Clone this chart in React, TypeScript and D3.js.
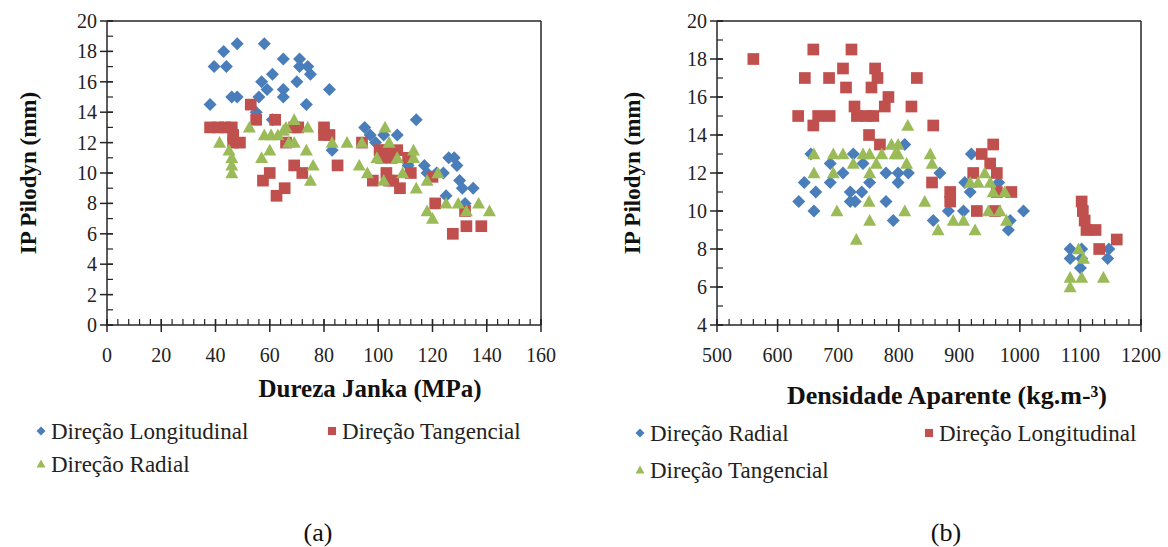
import React from 'react';
import { scaleLinear, range } from 'd3';

// (a) IP Pilodyn vs Dureza Janka
const jankaLongitudinal: [number, number][] = [
  [38, 14.5], [39.5, 17], [43, 18], [44, 17], [46, 15], [48, 15], [48, 18.5], [55, 14],
  [56, 15], [57, 16], [58, 18.5], [59, 15.5], [61, 16.5], [61, 13.5], [65, 17.5], [65, 15.5],
  [65, 15], [70, 16], [71, 17.5], [71, 17], [74, 17], [75, 16.5], [73.5, 14.5], [82, 15.5],
  [83, 11.5], [95, 13], [97, 12.5], [99, 12], [102, 12.5], [107, 12.5], [111, 10.5], [114, 13.5],
  [117, 10.5], [118, 10], [121.5, 10], [124, 10], [126, 11], [128, 11], [129, 10.5], [130, 9.5],
  [131, 9], [135, 9], [125, 8.5], [132, 8],
];
const jankaTangencial: [number, number][] = [
  [38, 13], [41, 13], [43.5, 13], [46, 13], [46.5, 12.5], [46.5, 12], [49, 12], [53, 14.5],
  [55, 13.5], [57.5, 9.5], [60, 10], [62, 13.5], [62.5, 8.5], [65.5, 9], [66, 12], [69, 13],
  [69, 10.5], [70.5, 13], [72, 10], [80, 13], [80, 12.5], [82, 12.5], [85, 10.5], [94, 12],
  [98, 9.5], [100.5, 11.5], [101, 11], [103, 11.5], [103, 10], [104, 9.5], [105, 11], [105.5, 9.5],
  [107, 11.5], [108, 9], [111, 11], [112, 10], [120, 9.75], [121, 8], [127.5, 6], [132.5, 6.5],
  [132, 7.5], [138, 6.5],
];
const jankaRadial: [number, number][] = [
  [41.5, 12], [45, 11.5], [46, 11], [46, 10.5], [46, 10], [52.5, 13], [57, 11], [58, 12.5],
  [60, 11.5], [60.5, 12.5], [63, 12.5], [65, 12.8], [66, 13], [67, 12], [69, 13.5], [69, 12],
  [73.5, 11.5], [74, 13], [76, 10.5], [75, 9.5], [83, 12], [88.5, 12], [93, 10.5], [94, 12],
  [96, 10], [99.5, 11], [102, 9.5], [102.5, 13], [104, 12], [107, 11], [109, 10], [113, 11.5],
  [113, 11], [114, 9], [118, 9.5], [118, 7.5], [120, 7], [122, 10], [125, 8], [129.5, 8],
  [132.5, 7.5], [137, 8], [141, 7.5],
];

// (b) IP Pilodyn vs Densidade Aparente
const densRadial: [number, number][] = [
  [635, 10.5], [644, 11.5], [655, 13], [660, 10], [663, 11], [687, 12.5], [687, 11.5], [708, 12],
  [720, 11], [720, 10.5], [725, 13], [728, 10.5], [739, 11], [741, 12.5], [752, 11.5], [779, 12],
  [779, 10.5], [791, 9.5], [799, 12], [799, 11.5], [810, 13.5], [816, 12], [857, 9.5], [868, 12],
  [882, 10], [907, 10], [909, 11.5], [918, 11], [920, 13], [965, 11.5], [981, 9], [984, 9.5],
  [1006, 10], [1083, 8], [1083, 7.5], [1102, 8], [1102, 7.5], [1100, 7], [1147, 8], [1145, 7.5],
];
const densLongitudinal: [number, number][] = [
  [560, 18], [634, 15], [645, 17], [659, 18.5], [659, 14.5], [667, 15], [685, 17], [686, 15],
  [708, 17.5], [713, 16.5], [722, 18.5], [727, 15.5], [731, 15], [747, 15], [751, 14], [755, 16.5],
  [758, 15], [761, 17.5], [765, 17], [769, 13.5], [777, 15.5], [783, 16], [821, 15.5], [830, 17],
  [855, 11.5], [857, 14.5], [885, 11], [885, 10.5], [923, 12], [929, 10], [937, 13], [951, 12.5],
  [956, 13.5], [959, 10], [962, 12], [962, 11], [986, 11], [1102, 10.5], [1104, 10], [1107, 9.5],
  [1110, 9], [1125, 9], [1131, 8], [1160, 8.5],
];
const densTangencial: [number, number][] = [
  [660, 13], [660, 12], [692, 13], [692, 12], [698, 10], [708, 13], [725, 12.5], [730, 8.5],
  [741, 13], [751, 10.5], [752, 13], [752, 12], [752, 9.5], [763, 12.5], [772, 13], [788, 13.5],
  [794, 13], [799, 13.5], [799, 13], [810, 10], [813, 12.5], [815, 14.5], [843, 10.5], [852, 13],
  [855, 12.5], [865, 9], [890, 9.5], [907, 9.5], [918, 11.5], [926, 9], [931, 11.5], [942, 12],
  [948, 10], [951, 11.5], [956, 11], [967, 10], [975, 11], [978, 9.5], [1083, 6.5], [1083, 6],
  [1097, 8], [1102, 6.5], [1105, 7.5], [1138, 6.5],
];

const jankaTicks = [0, 20, 40, 60, 80, 100, 120, 140, 160];
const densTicks = [500, 600, 700, 800, 900, 1000, 1100, 1200];
const pilodynTicksA = [0, 2, 4, 6, 8, 10, 12, 14, 16, 18, 20];
const pilodynTicksB = [4, 6, 8, 10, 12, 14, 16, 18, 20];

const BLUE = '#4a7ebb';
const RED = '#c0504d';
const GREEN = '#9bbb59';
const FONT = "'Liberation Serif', 'Times New Roman', Tinos, 'DejaVu Serif', 'Noto Serif', serif";

type Shape = 'diamond' | 'square' | 'triangle';

const markerPath = (shape: Shape, s: number) => {
  if (shape === 'diamond') return `M0,${-s}L${s},0L0,${s}L${-s},0Z`;
  if (shape === 'square') return `M${-s * 0.9},${-s * 0.9}h${s * 1.8}v${s * 1.8}h${-s * 1.8}Z`;
  return `M0,${-s}L${s},${s * 0.8}L${-s},${s * 0.8}Z`;
};

type Series = { name: string; data: [number, number][]; color: string; shape: Shape };

type PanelProps = {
  left: number; top: number; right: number; bottom: number;
  xTicks: number[]; xMinor: number; yTicks: number[];
  xTitle: React.ReactNode; xTitleX: number; xTitleY: number; xTitleSize: number;
  yTitleX: number;
  series: Series[];
  legend: { x: number; y: number }[];
  caption: string; captionX: number;
};

const Panel = (p: PanelProps) => {
  const x = scaleLinear()
    .domain([p.xTicks[0], p.xTicks[p.xTicks.length - 1]])
    .range([p.left, p.right]);
  const y = scaleLinear()
    .domain([p.yTicks[0], p.yTicks[p.yTicks.length - 1]])
    .range([p.bottom, p.top]);
  const xMinorTicks = range(x.domain()[0], x.domain()[1] + 0.001, p.xMinor);
  const yMinorTicks = range(y.domain()[0], y.domain()[1] + 0.001, 1);
  const axis = '#262626';

  return (
    <g>
      {/* plot area border */}
      <line x1={p.left} x2={p.right} y1={p.top} y2={p.top} stroke={axis} strokeWidth={1.5} />
      <line x1={p.right} x2={p.right} y1={p.top} y2={p.bottom} stroke={axis} strokeWidth={1.5} />

      {/* axes */}
      <line x1={p.left} x2={p.right} y1={p.bottom} y2={p.bottom} stroke={axis} strokeWidth={1.5} />
      <line x1={p.left} x2={p.left} y1={p.top} y2={p.bottom} stroke={axis} strokeWidth={1.5} />

      {xMinorTicks.map(t => (
        <line key={'xm' + t} x1={x(t)} x2={x(t)} y1={p.bottom} y2={p.bottom - 6} stroke={axis} strokeWidth={1.2} />
      ))}
      {p.xTicks.map(t => (
        <g key={'x' + t}>
          <line x1={x(t)} x2={x(t)} y1={p.bottom - 6} y2={p.bottom + 7} stroke={axis} strokeWidth={1.5} />
          <text x={x(t)} y={p.bottom + 37} textAnchor="middle" fontSize={20} fill="#222">{t}</text>
        </g>
      ))}
      {yMinorTicks.map(t => (
        <line key={'ym' + t} x1={p.left} x2={p.left + 6} y1={y(t)} y2={y(t)} stroke={axis} strokeWidth={1.2} />
      ))}
      {p.yTicks.map(t => (
        <g key={'y' + t}>
          <line x1={p.left - 7} x2={p.left + 6} y1={y(t)} y2={y(t)} stroke={axis} strokeWidth={1.5} />
          <text x={p.left - 10} y={y(t)} dy="0.35em" textAnchor="end" fontSize={20} fill="#222">{t}</text>
        </g>
      ))}

      {/* markers */}
      {p.series.map(s => (
        <g key={s.name} fill={s.color}>
          {s.data.map((d, i) => (
            <path key={i} d={markerPath(s.shape, 6.5)} transform={`translate(${x(d[0])},${y(d[1])})`} />
          ))}
        </g>
      ))}

      {/* titles */}
      <text x={p.xTitleX} y={p.xTitleY} textAnchor="middle" fontSize={p.xTitleSize} fontWeight="bold" fill="#111">{p.xTitle}</text>
      <text transform={`translate(${p.yTitleX},${(p.top + p.bottom) / 2}) rotate(-90)`} textAnchor="middle" dy="0.35em"
        fontSize={23} fontWeight="bold" fill="#111">IP Pilodyn (mm)</text>

      {/* legend */}
      {p.series.map((s, i) => (
        <g key={'lg' + s.name} transform={`translate(${p.legend[i].x},${p.legend[i].y})`}>
          <path d={markerPath(s.shape, 4.5)} fill={s.color} />
          <text x={10} dy="0.35em" fontSize={23} fill="#222">{s.name}</text>
        </g>
      ))}

      <text x={p.captionX} y={532} dy="0.35em" textAnchor="middle" fontSize={26} fill="#111">{p.caption}</text>
    </g>
  );
};

export default function App() {
  return (
    <svg width={1168} height={547} fontFamily={FONT}
      style={{ position: 'absolute', left: 0, top: 0, background: '#fff', fontFamily: FONT }}>
      <Panel
        left={107} top={21} right={541} bottom={325}
        xTicks={jankaTicks} xMinor={4} yTicks={pilodynTicksA}
        xTitle="Dureza Janka (MPa)" xTitleX={370} xTitleY={397} xTitleSize={25} yTitleX={28}
        series={[
          { name: 'Direção Longitudinal', data: jankaLongitudinal, color: BLUE, shape: 'diamond' },
          { name: 'Direção Tangencial', data: jankaTangencial, color: RED, shape: 'square' },
          { name: 'Direção Radial', data: jankaRadial, color: GREEN, shape: 'triangle' },
        ]}
        legend={[{ x: 41, y: 431 }, { x: 332, y: 431 }, { x: 41, y: 464 }]}
        caption="(a)" captionX={318}
      />
      <Panel
        left={717} top={21} right={1141} bottom={325}
        xTicks={densTicks} xMinor={20} yTicks={pilodynTicksB}
        xTitle={<>Densidade Aparente (kg.m-<tspan>³</tspan>)</>} xTitleX={947} xTitleY={404} xTitleSize={26} yTitleX={632}
        series={[
          { name: 'Direção Radial', data: densRadial, color: BLUE, shape: 'diamond' },
          { name: 'Direção Longitudinal', data: densLongitudinal, color: RED, shape: 'square' },
          { name: 'Direção Tangencial', data: densTangencial, color: GREEN, shape: 'triangle' },
        ]}
        legend={[{ x: 640, y: 433 }, { x: 929, y: 433 }, { x: 640, y: 470 }]}
        caption="(b)" captionX={946}
      />
    </svg>
  );
}
